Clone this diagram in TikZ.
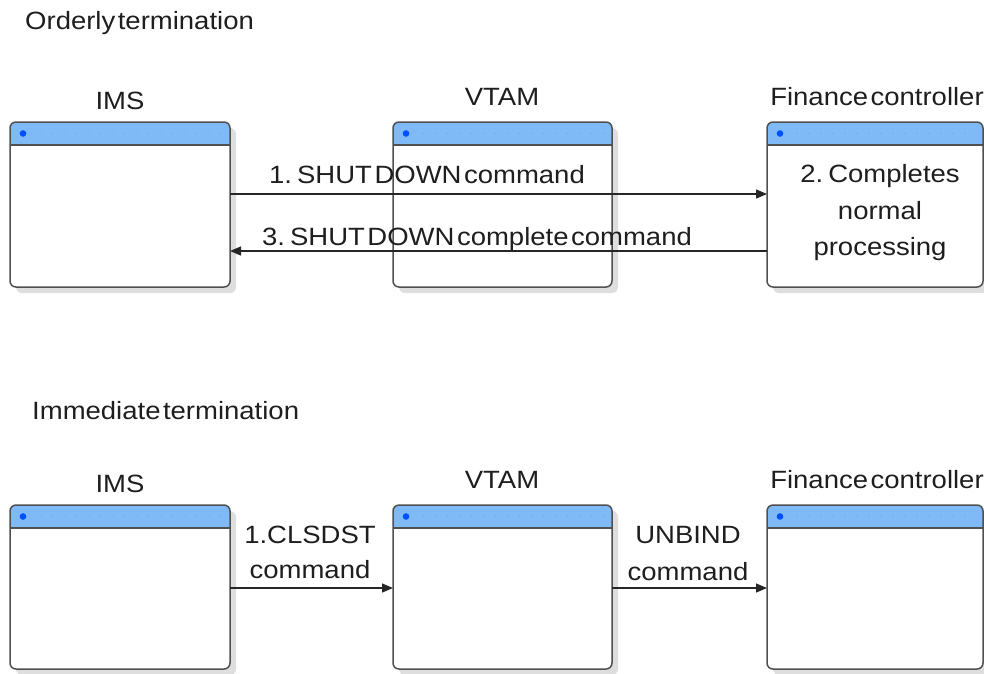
\documentclass[tikz,border=0pt]{standalone}
\usepackage{fontspec}
\setmainfont{Liberation Sans}[FakeStretch=1.1]
\usetikzlibrary{arrows.meta,calc}
\definecolor{hdr}{RGB}{128,186,246}
\definecolor{hdrdot}{RGB}{108,168,232}
\definecolor{dotc}{RGB}{0,80,255}
\definecolor{edgec}{RGB}{80,80,80}
\definecolor{txtc}{RGB}{30,30,30}
\definecolor{shadc}{RGB}{222,222,222}
\newcommand\dfont{\fontsize{25}{36}\selectfont\spaceskip=0.1em\relax}
\newcommand\winbox[1]{%
  \fill[shadc, rounded corners=6pt] ($(#1.north west)+(6,6)$) rectangle ($(#1.south east)+(6,6)$);
  \fill[white, rounded corners=6pt] (#1.north west) rectangle (#1.south east);
  \begin{scope}
    \clip[rounded corners=6pt] (#1.north west) rectangle (#1.south east);
    \fill[hdr] (#1.north west) rectangle ($(#1.north east)+(0,23)$);
  \end{scope}
  \draw[hdrdot, line width=1.5pt, line cap=round, dash pattern=on 0pt off 12pt] ($(#1.north west)+(30,11.5)$) -- ($(#1.north east)+(-8,11.5)$);
  \fill[dotc] ($(#1.north west)+(13,11.5)$) circle (3.3pt);
  \draw[edgec, line width=1.4pt] ($(#1.north west)+(0,23)$) -- ($(#1.north east)+(0,23)$);
  \draw[edgec, line width=1.5pt, rounded corners=6pt] (#1.north west) rectangle (#1.south east);
}
\tikzset{
  win/.style={rectangle, draw=none, inner sep=0pt, outer sep=0pt},
  lbl/.style={font=\dfont, text=txtc, inner sep=0pt, anchor=base},
  ttl/.style={font=\dfont, text=txtc, inner sep=0pt, anchor=base west},
  arr/.style={draw=black!85, line width=1.3pt, -{Triangle[length=11pt,width=9pt]}},
}
\begin{document}
\begin{tikzpicture}[x=1pt, y=-1pt]
\useasboundingbox (0,0) rectangle (984,673);

% ---- titles
\node[ttl] (t1) at (25,29) {Orderly termination};
\node[ttl] (t2) at (32,419) {Immediate termination};

% ---- top row
\node[win, minimum width=220pt, minimum height=165pt] (ims1) at (120,204.5) {};
\node[win, minimum width=219pt, minimum height=165pt] (vt1) at (502.5,204.5) {};
\node[win, minimum width=216pt, minimum height=165pt] (fin1) at (875,204.5) {};
\winbox{ims1}
\winbox{vt1}
\winbox{fin1}
\node[lbl] (h1) at (120,109) {IMS};
\node[lbl] (h2) at (502,105) {VTAM};
\node[lbl] (h3) at (877,105) {Finance controller};

\node[lbl] (c1) at (880,182) {2. Completes};
\node[lbl] (c2) at (880,219) {normal};
\node[lbl] (c3) at (880,255) {processing};

\coordinate (a1) at (0,194);
\coordinate (a3) at (0,251);
\draw[arr] (ims1.east |- a1) -- (fin1.west |- a1);
\draw[arr] (fin1.west |- a3) -- (ims1.east |- a3);
\node[lbl] (l1) at (427,183) {1. SHUT DOWN command};
\node[lbl] (l3) at (477,245) {3. SHUT DOWN complete command};

% ---- bottom row
\node[win, minimum width=220pt, minimum height=164pt] (ims2) at (120,587) {};
\node[win, minimum width=219pt, minimum height=164pt] (vt2) at (502.5,587) {};
\node[win, minimum width=216pt, minimum height=164pt] (fin2) at (875,587) {};
\winbox{ims2}
\winbox{vt2}
\winbox{fin2}
\node[lbl] (h4) at (120,492) {IMS};
\node[lbl] (h5) at (502,488) {VTAM};
\node[lbl] (h6) at (877,488) {Finance controller};

\coordinate (b1) at (0,588);
\draw[arr] (ims2.east |- b1) -- (vt2.west |- b1);
\draw[arr] (vt2.east |- b1) -- (fin2.west |- b1);
\node[lbl] (m1) at (310,543) {1.CLSDST};
\node[lbl] (m2) at (310,578) {command};
\node[lbl] (m3) at (688,543) {UNBIND};
\node[lbl] (m4) at (688,580) {command};
\end{tikzpicture}
\end{document}
